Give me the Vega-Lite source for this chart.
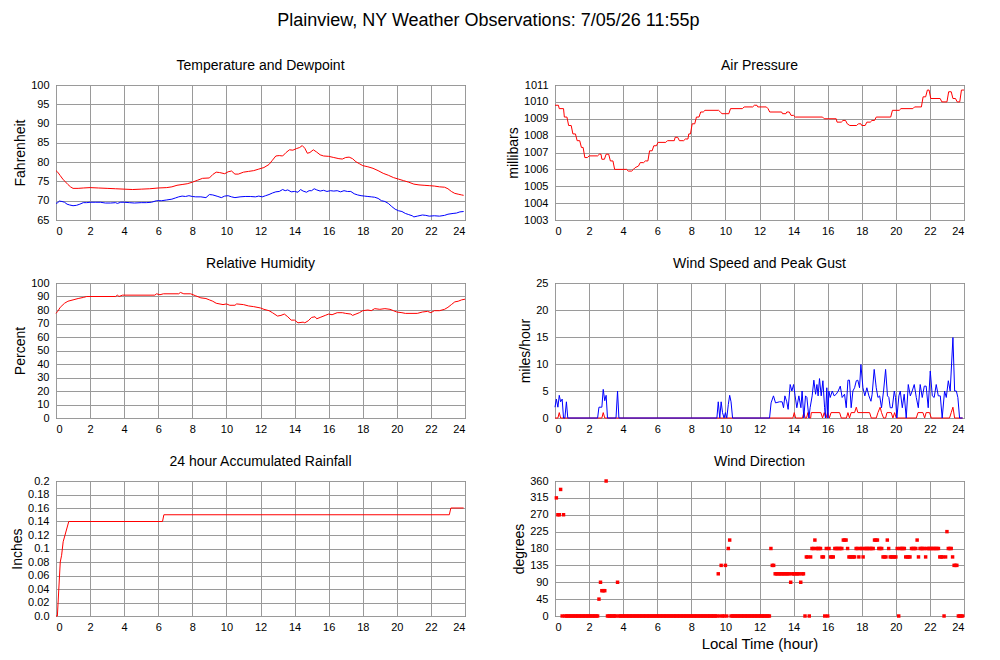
{
  "$schema": "https://vega.github.io/schema/vega-lite/v6.json",
  "background": "white",
  "padding": {"left": 10, "top": 11, "right": 5, "bottom": 5},
  "title": {"text": "Plainview, NY Weather Observations: 7/05/26 11:55p", "fontSize": 18, "fontWeight": "normal", "font": "Liberation Sans", "color": "#000", "anchor": "middle", "offset": 29},
  "config": {
    "font": "Liberation Sans",
    "view": {"stroke": "#444", "strokeWidth": 1},
    "axis": {"grid": true, "gridColor": "#9a9a9a", "gridWidth": 1, "domain": false, "ticks": false, "tickSize": 0, "labelFontSize": 11, "labelColor": "#000", "labelFont": "Liberation Sans", "titleFont": "Liberation Sans", "titleFontSize": 14, "titleFontWeight": "normal", "titleColor": "#000"},
    "axisX": {"labelPadding": 5, "titlePadding": 4, "titleFontSize": 15},
    "axisY": {"labelPadding": 7, "titlePadding": 3},
    "title": {"fontSize": 14, "fontWeight": "normal", "color": "#000", "offset": 6},
    "line": {"strokeWidth": 1}
  },
  "datasets": {
    "temp": [
      {"t":0,"v":77.8},{"t":0.1,"v":77.4},{"t":0.25,"v":76.5},{"t":0.4,"v":75.6},{"t":0.55,"v":74.9},{"t":0.7,"v":74.2},{"t":0.85,"v":73.6},{"t":1.0,"v":73.2},{"t":1.3,"v":73.2},{"t":1.6,"v":73.3},{"t":2.0,"v":73.4},{"t":2.5,"v":73.3},{"t":3.0,"v":73.2},{"t":3.5,"v":73.1},{"t":4.0,"v":73.0},{"t":4.5,"v":72.9},{"t":5.0,"v":73.0},{"t":5.5,"v":73.1},{"t":6.0,"v":73.3},{"t":6.5,"v":73.4},{"t":6.8,"v":73.6},{"t":7.1,"v":74.0},{"t":7.4,"v":74.2},{"t":7.7,"v":74.4},{"t":8.0,"v":74.8},{"t":8.3,"v":75.3},{"t":8.6,"v":75.8},{"t":9.0,"v":75.9},{"t":9.2,"v":76.8},{"t":9.4,"v":77.4},{"t":9.6,"v":77.3},{"t":9.9,"v":77.0},{"t":10.1,"v":77.5},{"t":10.3,"v":77.7},{"t":10.5,"v":76.9},{"t":10.7,"v":76.9},{"t":11.0,"v":77.4},{"t":11.3,"v":77.6},{"t":11.6,"v":77.8},{"t":11.9,"v":78.2},{"t":12.2,"v":78.6},{"t":12.5,"v":79.4},{"t":12.7,"v":80.5},{"t":12.9,"v":81.6},{"t":13.1,"v":81.7},{"t":13.3,"v":81.6},{"t":13.5,"v":82.5},{"t":13.7,"v":83.2},{"t":13.9,"v":83.1},{"t":14.1,"v":83.5},{"t":14.3,"v":83.8},{"t":14.45,"v":84.3},{"t":14.6,"v":83.6},{"t":14.75,"v":82.3},{"t":14.9,"v":82.5},{"t":15.1,"v":83.2},{"t":15.3,"v":82.6},{"t":15.5,"v":81.9},{"t":15.7,"v":81.6},{"t":16.0,"v":81.5},{"t":16.3,"v":81.2},{"t":16.6,"v":80.9},{"t":16.8,"v":80.8},{"t":17.0,"v":81.2},{"t":17.2,"v":81.3},{"t":17.4,"v":80.9},{"t":17.6,"v":80.1},{"t":17.8,"v":79.6},{"t":18.0,"v":79.1},{"t":18.3,"v":78.8},{"t":18.6,"v":78.4},{"t":18.9,"v":77.8},{"t":19.2,"v":77.1},{"t":19.5,"v":76.6},{"t":19.8,"v":76.0},{"t":20.1,"v":75.6},{"t":20.4,"v":75.2},{"t":20.7,"v":74.8},{"t":21.0,"v":74.3},{"t":21.3,"v":74.1},{"t":21.6,"v":74.0},{"t":21.9,"v":73.9},{"t":22.2,"v":73.8},{"t":22.5,"v":73.6},{"t":22.8,"v":73.5},{"t":23.0,"v":73.1},{"t":23.2,"v":72.4},{"t":23.4,"v":71.9},{"t":23.6,"v":71.7},{"t":23.8,"v":71.5},{"t":23.92,"v":71.4}
    ],
    "dew": [
      {"t":0,"v":69.3},{"t":0.1,"v":69.5},{"t":0.2,"v":69.9},{"t":0.35,"v":69.8},{"t":0.5,"v":69.6},{"t":0.65,"v":69.1},{"t":0.8,"v":68.9},{"t":1.0,"v":68.7},{"t":1.2,"v":68.8},{"t":1.4,"v":69.1},{"t":1.6,"v":69.5},{"t":1.8,"v":69.5},{"t":2.0,"v":69.6},{"t":2.3,"v":69.6},{"t":2.6,"v":69.6},{"t":2.9,"v":69.4},{"t":3.2,"v":69.4},{"t":3.5,"v":69.5},{"t":3.6,"v":69.3},{"t":3.8,"v":69.6},{"t":4.0,"v":69.6},{"t":4.3,"v":69.5},{"t":4.6,"v":69.4},{"t":5.0,"v":69.5},{"t":5.3,"v":69.5},{"t":5.6,"v":69.6},{"t":5.9,"v":70.0},{"t":6.2,"v":70.0},{"t":6.5,"v":70.2},{"t":6.8,"v":70.4},{"t":7.0,"v":70.7},{"t":7.2,"v":71.0},{"t":7.4,"v":71.2},{"t":7.6,"v":71.1},{"t":7.8,"v":71.3},{"t":8.0,"v":71.1},{"t":8.2,"v":71.0},{"t":8.5,"v":71.0},{"t":8.8,"v":70.8},{"t":9.0,"v":71.6},{"t":9.2,"v":71.5},{"t":9.5,"v":71.1},{"t":9.7,"v":70.8},{"t":9.9,"v":71.2},{"t":10.1,"v":71.3},{"t":10.3,"v":71.0},{"t":10.5,"v":70.8},{"t":10.8,"v":71.0},{"t":11.1,"v":71.1},{"t":11.4,"v":71.1},{"t":11.7,"v":71.0},{"t":11.9,"v":71.2},{"t":12.1,"v":71.0},{"t":12.3,"v":71.3},{"t":12.5,"v":71.6},{"t":12.7,"v":72.0},{"t":12.9,"v":72.3},{"t":13.1,"v":72.4},{"t":13.3,"v":72.9},{"t":13.45,"v":72.6},{"t":13.6,"v":72.8},{"t":13.8,"v":72.3},{"t":14.0,"v":72.4},{"t":14.2,"v":72.2},{"t":14.35,"v":72.9},{"t":14.5,"v":72.5},{"t":14.7,"v":72.2},{"t":14.85,"v":72.6},{"t":15.0,"v":72.6},{"t":15.15,"v":73.1},{"t":15.3,"v":72.8},{"t":15.5,"v":72.5},{"t":15.7,"v":72.7},{"t":15.9,"v":72.4},{"t":16.1,"v":72.6},{"t":16.3,"v":72.5},{"t":16.5,"v":72.6},{"t":16.7,"v":72.3},{"t":16.9,"v":72.6},{"t":17.1,"v":72.4},{"t":17.3,"v":72.4},{"t":17.5,"v":71.8},{"t":17.7,"v":71.5},{"t":17.9,"v":71.3},{"t":18.1,"v":71.2},{"t":18.3,"v":71.1},{"t":18.5,"v":71.0},{"t":18.7,"v":70.9},{"t":18.9,"v":70.6},{"t":19.1,"v":70.0},{"t":19.3,"v":69.8},{"t":19.5,"v":69.3},{"t":19.7,"v":68.5},{"t":19.9,"v":67.8},{"t":20.1,"v":67.4},{"t":20.3,"v":67.2},{"t":20.5,"v":66.7},{"t":20.7,"v":66.4},{"t":20.9,"v":66.1},{"t":21.0,"v":65.8},{"t":21.2,"v":66.0},{"t":21.5,"v":66.3},{"t":21.7,"v":66.2},{"t":21.9,"v":66.0},{"t":22.2,"v":66.1},{"t":22.5,"v":66.0},{"t":22.8,"v":66.2},{"t":23.0,"v":66.5},{"t":23.3,"v":66.7},{"t":23.5,"v":66.8},{"t":23.7,"v":67.1},{"t":23.92,"v":67.2}
    ],
    "pres": [
      {"t":0,"v":1009.8},{"t":0.2,"v":1009.8},{"t":0.25,"v":1009.6},{"t":0.5,"v":1009.6},{"t":0.55,"v":1009.1},{"t":0.7,"v":1009.1},{"t":0.8,"v":1008.6},{"t":0.95,"v":1008.6},{"t":1.05,"v":1008.1},{"t":1.2,"v":1008.1},{"t":1.3,"v":1007.7},{"t":1.45,"v":1007.7},{"t":1.55,"v":1007.3},{"t":1.65,"v":1007.3},{"t":1.75,"v":1006.7},{"t":1.9,"v":1006.7},{"t":2.0,"v":1006.8},{"t":2.5,"v":1006.8},{"t":2.6,"v":1006.9},{"t":2.7,"v":1006.9},{"t":2.75,"v":1006.6},{"t":2.9,"v":1006.6},{"t":3.0,"v":1006.9},{"t":3.15,"v":1006.9},{"t":3.25,"v":1006.5},{"t":3.4,"v":1006.5},{"t":3.5,"v":1006.0},{"t":4.2,"v":1006.0},{"t":4.3,"v":1005.9},{"t":4.5,"v":1005.9},{"t":4.6,"v":1006.0},{"t":4.7,"v":1006.1},{"t":4.9,"v":1006.2},{"t":5.0,"v":1006.4},{"t":5.2,"v":1006.4},{"t":5.3,"v":1006.5},{"t":5.45,"v":1006.5},{"t":5.55,"v":1007.1},{"t":5.7,"v":1007.1},{"t":5.8,"v":1007.4},{"t":5.95,"v":1007.4},{"t":6.05,"v":1007.6},{"t":6.5,"v":1007.6},{"t":6.6,"v":1007.7},{"t":7.0,"v":1007.7},{"t":7.05,"v":1007.9},{"t":7.2,"v":1007.9},{"t":7.3,"v":1007.7},{"t":7.55,"v":1007.7},{"t":7.65,"v":1007.8},{"t":7.8,"v":1007.8},{"t":7.85,"v":1008.1},{"t":7.95,"v":1008.1},{"t":8.05,"v":1008.7},{"t":8.2,"v":1008.7},{"t":8.3,"v":1009.1},{"t":8.45,"v":1009.1},{"t":8.55,"v":1009.4},{"t":8.7,"v":1009.4},{"t":8.8,"v":1009.5},{"t":9.6,"v":1009.5},{"t":9.7,"v":1009.4},{"t":9.8,"v":1009.3},{"t":10.2,"v":1009.3},{"t":10.3,"v":1009.6},{"t":11.0,"v":1009.6},{"t":11.1,"v":1009.7},{"t":11.6,"v":1009.7},{"t":11.7,"v":1009.8},{"t":11.85,"v":1009.8},{"t":11.9,"v":1009.7},{"t":12.4,"v":1009.7},{"t":12.5,"v":1009.6},{"t":12.6,"v":1009.4},{"t":13.3,"v":1009.4},{"t":13.35,"v":1009.3},{"t":13.55,"v":1009.3},{"t":13.6,"v":1009.4},{"t":13.75,"v":1009.4},{"t":13.85,"v":1009.2},{"t":14.0,"v":1009.2},{"t":14.1,"v":1009.1},{"t":15.7,"v":1009.1},{"t":15.8,"v":1009.0},{"t":16.5,"v":1009.0},{"t":16.55,"v":1008.8},{"t":16.8,"v":1008.8},{"t":16.9,"v":1008.9},{"t":17.05,"v":1008.9},{"t":17.15,"v":1008.7},{"t":17.3,"v":1008.6},{"t":17.7,"v":1008.6},{"t":17.8,"v":1008.7},{"t":17.95,"v":1008.7},{"t":18.0,"v":1008.6},{"t":18.2,"v":1008.6},{"t":18.3,"v":1008.8},{"t":18.5,"v":1008.8},{"t":18.6,"v":1008.9},{"t":18.75,"v":1008.9},{"t":18.85,"v":1009.1},{"t":19.7,"v":1009.1},{"t":19.8,"v":1009.5},{"t":20.2,"v":1009.5},{"t":20.3,"v":1009.6},{"t":21.0,"v":1009.6},{"t":21.1,"v":1009.7},{"t":21.5,"v":1009.7},{"t":21.6,"v":1010.3},{"t":21.75,"v":1010.3},{"t":21.85,"v":1010.7},{"t":21.95,"v":1010.7},{"t":22.05,"v":1010.2},{"t":22.6,"v":1010.2},{"t":22.7,"v":1010.0},{"t":23.0,"v":1010.0},{"t":23.1,"v":1010.6},{"t":23.25,"v":1010.6},{"t":23.35,"v":1010.2},{"t":23.5,"v":1010.2},{"t":23.6,"v":1010.0},{"t":23.75,"v":1010.0},{"t":23.85,"v":1010.7},{"t":24.0,"v":1010.7}
    ],
    "rh": [
      {"t":0,"v":77.5},{"t":0.1,"v":79},{"t":0.25,"v":82},{"t":0.5,"v":85},{"t":0.7,"v":86.5},{"t":1.0,"v":87.5},{"t":1.3,"v":88.5},{"t":1.6,"v":89.3},{"t":1.8,"v":90},{"t":3.5,"v":90},{"t":3.6,"v":91},{"t":3.7,"v":90},{"t":3.9,"v":91},{"t":5.8,"v":91},{"t":5.9,"v":92},{"t":6.1,"v":91.3},{"t":6.3,"v":92},{"t":7.2,"v":92},{"t":7.3,"v":93},{"t":7.5,"v":92},{"t":7.9,"v":92},{"t":8.2,"v":90.5},{"t":8.5,"v":89},{"t":8.8,"v":88.5},{"t":9.0,"v":87.5},{"t":9.2,"v":86.5},{"t":9.4,"v":85},{"t":9.8,"v":84},{"t":10.0,"v":84.5},{"t":10.2,"v":83.5},{"t":10.5,"v":83.5},{"t":10.6,"v":84.5},{"t":11.0,"v":84},{"t":11.3,"v":83},{"t":11.6,"v":82.5},{"t":12.0,"v":81.5},{"t":12.2,"v":80.5},{"t":12.5,"v":79.5},{"t":12.7,"v":78},{"t":13.0,"v":75.5},{"t":13.2,"v":76},{"t":13.4,"v":77},{"t":13.6,"v":75},{"t":13.8,"v":72.5},{"t":14.0,"v":72.5},{"t":14.2,"v":70.5},{"t":14.5,"v":71},{"t":14.6,"v":70.5},{"t":14.8,"v":72},{"t":15.0,"v":74.5},{"t":15.2,"v":75},{"t":15.3,"v":73.5},{"t":15.5,"v":74.5},{"t":15.8,"v":76},{"t":16.0,"v":77},{"t":16.2,"v":76.5},{"t":16.5,"v":78},{"t":16.8,"v":78},{"t":17.0,"v":77.5},{"t":17.3,"v":77},{"t":17.4,"v":76},{"t":17.6,"v":77},{"t":17.8,"v":78},{"t":18.0,"v":79.5},{"t":18.3,"v":80},{"t":18.5,"v":79.5},{"t":18.7,"v":81},{"t":19.0,"v":80.5},{"t":19.3,"v":81},{"t":19.6,"v":80.5},{"t":19.8,"v":79.5},{"t":20.0,"v":78.5},{"t":20.3,"v":78},{"t":20.5,"v":77.5},{"t":21.2,"v":77.5},{"t":21.5,"v":78.5},{"t":21.8,"v":79},{"t":22.0,"v":78},{"t":22.2,"v":79.5},{"t":22.5,"v":79.5},{"t":22.8,"v":80.5},{"t":23.0,"v":82},{"t":23.2,"v":84},{"t":23.4,"v":86},{"t":23.6,"v":86.5},{"t":23.8,"v":87.5},{"t":24.0,"v":88}
    ],
    "wind": [
      {"t":0,"v":0},{"t":0.17,"v":0},{"t":0.25,"v":1},{"t":0.33,"v":0},{"t":2.75,"v":0},{"t":2.83,"v":1},{"t":2.92,"v":0},{"t":13.96,"v":0},{"t":14.04,"v":1},{"t":14.12,"v":0},{"t":14.52,"v":0},{"t":14.6,"v":1},{"t":14.68,"v":0},{"t":14.76,"v":0},{"t":14.84,"v":1},{"t":14.92,"v":0},{"t":15.0,"v":0},{"t":15.04,"v":1},{"t":15.6,"v":1},{"t":15.7,"v":0},{"t":15.8,"v":1},{"t":15.9,"v":0},{"t":16.0,"v":1},{"t":16.1,"v":0},{"t":16.2,"v":1},{"t":16.7,"v":1},{"t":16.8,"v":0},{"t":17.1,"v":0},{"t":17.19,"v":1},{"t":17.28,"v":0},{"t":17.38,"v":1},{"t":17.58,"v":1},{"t":17.68,"v":2},{"t":17.77,"v":1},{"t":18.46,"v":1},{"t":18.56,"v":0},{"t":18.85,"v":0},{"t":18.95,"v":1},{"t":19.08,"v":2},{"t":19.16,"v":1},{"t":19.28,"v":0},{"t":19.4,"v":0},{"t":19.48,"v":1},{"t":19.73,"v":1},{"t":19.83,"v":0},{"t":19.93,"v":1},{"t":20.02,"v":0},{"t":21.2,"v":0},{"t":21.3,"v":1},{"t":21.59,"v":1},{"t":21.69,"v":0},{"t":21.78,"v":1},{"t":21.98,"v":1},{"t":22.08,"v":0},{"t":23.15,"v":0},{"t":23.25,"v":1},{"t":23.35,"v":2},{"t":23.45,"v":0},{"t":23.92,"v":0}
    ],
    "gust": [
      {"t":0,"v":2},{"t":0.08,"v":3.5},{"t":0.17,"v":2},{"t":0.25,"v":4.2},{"t":0.33,"v":3},{"t":0.42,"v":3.5},{"t":0.5,"v":0},{"t":0.58,"v":0},{"t":0.67,"v":3},{"t":0.75,"v":0},{"t":2.5,"v":0},{"t":2.58,"v":2},{"t":2.75,"v":2},{"t":2.83,"v":5.3},{"t":2.92,"v":3.2},{"t":3.0,"v":4.2},{"t":3.08,"v":0},{"t":3.58,"v":0},{"t":3.67,"v":5},{"t":3.75,"v":0},{"t":9.5,"v":0},{"t":9.58,"v":3},{"t":9.67,"v":0},{"t":9.75,"v":3},{"t":9.83,"v":1},{"t":9.92,"v":0},{"t":10.0,"v":1},{"t":10.08,"v":0},{"t":10.17,"v":2.5},{"t":10.25,"v":4.2},{"t":10.33,"v":3},{"t":10.42,"v":0},
      {"t":12.59,"v":0},{"t":12.68,"v":2.8},{"t":12.82,"v":4.1},{"t":12.94,"v":2.8},{"t":13.17,"v":3.0},{"t":13.33,"v":3.0},{"t":13.41,"v":1.9},{"t":13.49,"v":4.1},{"t":13.6,"v":3.0},{"t":13.68,"v":1.6},{"t":13.8,"v":6.2},{"t":13.9,"v":5},{"t":14.0,"v":6.2},{"t":14.09,"v":4.1},{"t":14.19,"v":1.9},{"t":14.31,"v":4.1},{"t":14.43,"v":1.9},{"t":14.5,"v":5},{"t":14.6,"v":0},{"t":14.7,"v":4.1},{"t":14.78,"v":3.8},{"t":14.9,"v":0},{"t":14.97,"v":1.9},{"t":15.09,"v":4.1},{"t":15.19,"v":7.0},{"t":15.29,"v":4.4},{"t":15.37,"v":6.2},{"t":15.44,"v":4.1},{"t":15.52,"v":7.3},{"t":15.62,"v":4.1},{"t":15.72,"v":6.9},{"t":15.82,"v":1.9},{"t":15.87,"v":0},{"t":15.95,"v":5.6},{"t":16.01,"v":0},{"t":16.07,"v":5},{"t":16.15,"v":3.8},{"t":16.27,"v":5},{"t":16.38,"v":4.1},{"t":16.5,"v":4.4},{"t":16.62,"v":5},{"t":16.74,"v":5.9},{"t":16.85,"v":3.8},{"t":16.99,"v":4.4},{"t":17.09,"v":1.9},{"t":17.19,"v":7.0},{"t":17.28,"v":7.0},{"t":17.38,"v":1.9},{"t":17.48,"v":5},{"t":17.58,"v":5.6},{"t":17.68,"v":6.9},{"t":17.77,"v":7.0},{"t":17.87,"v":5.6},{"t":17.95,"v":9.9},{"t":18.07,"v":5.6},{"t":18.18,"v":4.1},{"t":18.3,"v":5.6},{"t":18.42,"v":4.1},{"t":18.54,"v":3.1},{"t":18.61,"v":4.4},{"t":18.73,"v":9.0},{"t":18.85,"v":5.6},{"t":18.95,"v":3.8},{"t":19.05,"v":4.1},{"t":19.16,"v":1.9},{"t":19.28,"v":5},{"t":19.4,"v":9.0},{"t":19.51,"v":4.1},{"t":19.59,"v":3.8},{"t":19.67,"v":1.9},{"t":19.79,"v":1.9},{"t":19.91,"v":5},{"t":19.98,"v":3.8},{"t":20.06,"v":0},{"t":20.18,"v":4.1},{"t":20.26,"v":5},{"t":20.38,"v":1.9},{"t":20.49,"v":4.4},{"t":20.61,"v":0},{"t":20.73,"v":6.2},{"t":20.85,"v":4.1},{"t":20.96,"v":5},{"t":21.08,"v":6.2},{"t":21.2,"v":3.8},{"t":21.32,"v":1.9},{"t":21.43,"v":6.2},{"t":21.55,"v":3.8},{"t":21.67,"v":5.9},{"t":21.78,"v":5.9},{"t":21.9,"v":1.9},{"t":22.02,"v":8.7},{"t":22.14,"v":4.1},{"t":22.25,"v":3.8},{"t":22.37,"v":6.2},{"t":22.49,"v":4.1},{"t":22.61,"v":4.1},{"t":22.72,"v":0},{"t":22.86,"v":5},{"t":22.96,"v":3.8},{"t":23.08,"v":6.9},{"t":23.19,"v":5},{"t":23.35,"v":14.9},{"t":23.45,"v":5},{"t":23.55,"v":5},{"t":23.64,"v":3.8},{"t":23.74,"v":0},{"t":23.92,"v":0}
    ],
    "rain": [
      {"t":0,"v":0},{"t":0.08,"v":0},{"t":0.25,"v":0.08},{"t":0.33,"v":0.09},{"t":0.42,"v":0.11},{"t":0.75,"v":0.14},{"t":6.25,"v":0.14},{"t":6.33,"v":0.15},{"t":23.08,"v":0.15},{"t":23.17,"v":0.16},{"t":23.92,"v":0.16}
    ],
    "dir": [
      {"t":0.08,"v":315},{"t":0.17,"v":270},{"t":0.25,"v":270},{"t":0.33,"v":337.5},{"t":0.42,"v":0},{"t":0.5,"v":270},
      {"t":0.58,"v":0},{"t":0.67,"v":0},{"t":0.75,"v":0},{"t":0.83,"v":0},{"t":0.92,"v":0},{"t":1.0,"v":0},{"t":1.08,"v":0},{"t":1.17,"v":0},{"t":1.25,"v":0},{"t":1.33,"v":0},{"t":1.42,"v":0},{"t":1.5,"v":0},{"t":1.58,"v":0},{"t":1.67,"v":0},{"t":1.75,"v":0},{"t":1.83,"v":0},{"t":1.92,"v":0},{"t":2.0,"v":0},{"t":2.08,"v":0},{"t":2.17,"v":0},{"t":2.25,"v":0},{"t":2.33,"v":0},{"t":2.42,"v":0},{"t":2.5,"v":0},
      {"t":2.58,"v":45},{"t":2.67,"v":90},{"t":2.75,"v":67.5},{"t":2.83,"v":67.5},{"t":2.92,"v":67.5},{"t":3.0,"v":360},
      {"t":3.08,"v":0},{"t":3.17,"v":0},{"t":3.25,"v":0},{"t":3.33,"v":0},{"t":3.42,"v":0},{"t":3.5,"v":0},{"t":3.58,"v":0},{"t":3.67,"v":90},
      {"t":3.75,"v":0},{"t":3.83,"v":0},{"t":3.92,"v":0},{"t":4.0,"v":0},{"t":4.08,"v":0},{"t":4.17,"v":0},{"t":4.25,"v":0},{"t":4.33,"v":0},{"t":4.42,"v":0},{"t":4.5,"v":0},{"t":4.58,"v":0},{"t":4.67,"v":0},{"t":4.75,"v":0},{"t":4.83,"v":0},{"t":4.92,"v":0},{"t":5.0,"v":0},{"t":5.08,"v":0},{"t":5.17,"v":0},{"t":5.25,"v":0},{"t":5.33,"v":0},{"t":5.42,"v":0},{"t":5.5,"v":0},{"t":5.58,"v":0},{"t":5.67,"v":0},{"t":5.75,"v":0},{"t":5.83,"v":0},{"t":5.92,"v":0},{"t":6.0,"v":0},{"t":6.08,"v":0},{"t":6.17,"v":0},{"t":6.25,"v":0},{"t":6.33,"v":0},{"t":6.42,"v":0},{"t":6.5,"v":0},{"t":6.58,"v":0},{"t":6.67,"v":0},{"t":6.75,"v":0},{"t":6.83,"v":0},{"t":6.92,"v":0},{"t":7.0,"v":0},{"t":7.08,"v":0},{"t":7.17,"v":0},{"t":7.25,"v":0},{"t":7.33,"v":0},{"t":7.42,"v":0},{"t":7.5,"v":0},{"t":7.58,"v":0},{"t":7.67,"v":0},{"t":7.75,"v":0},{"t":7.83,"v":0},{"t":7.92,"v":0},{"t":8.0,"v":0},{"t":8.08,"v":0},{"t":8.17,"v":0},{"t":8.25,"v":0},{"t":8.33,"v":0},{"t":8.42,"v":0},{"t":8.5,"v":0},{"t":8.58,"v":0},{"t":8.67,"v":0},{"t":8.75,"v":0},{"t":8.83,"v":0},{"t":8.92,"v":0},{"t":9.0,"v":0},{"t":9.08,"v":0},{"t":9.17,"v":0},{"t":9.25,"v":0},{"t":9.33,"v":0},{"t":9.42,"v":0},{"t":9.5,"v":0},
      {"t":9.58,"v":112.5},{"t":9.67,"v":0},{"t":9.75,"v":135},{"t":9.83,"v":0},{"t":9.92,"v":0},{"t":10.0,"v":135},{"t":10.08,"v":0},{"t":10.17,"v":180},{"t":10.25,"v":202.5},{"t":10.33,"v":0},
      {"t":10.42,"v":0},{"t":10.5,"v":0},{"t":10.58,"v":0},{"t":10.67,"v":0},{"t":10.75,"v":0},{"t":10.83,"v":0},{"t":10.92,"v":0},{"t":11.0,"v":0},{"t":11.08,"v":0},{"t":11.17,"v":0},{"t":11.25,"v":0},{"t":11.33,"v":0},{"t":11.42,"v":0},{"t":11.5,"v":0},{"t":11.58,"v":0},{"t":11.67,"v":0},{"t":11.75,"v":0},{"t":11.83,"v":0},{"t":11.92,"v":0},{"t":12.0,"v":0},{"t":12.08,"v":0},{"t":12.17,"v":0},{"t":12.25,"v":0},{"t":12.33,"v":0},{"t":12.42,"v":0},{"t":12.5,"v":0},{"t":12.58,"v":0},
      {"t":12.67,"v":180},{"t":12.75,"v":135},{"t":12.83,"v":135},{"t":12.92,"v":112.5},{"t":13.0,"v":112.5},{"t":13.08,"v":112.5},{"t":13.17,"v":112.5},{"t":13.25,"v":112.5},{"t":13.33,"v":112.5},{"t":13.42,"v":112.5},{"t":13.5,"v":112.5},{"t":13.58,"v":112.5},{"t":13.67,"v":112.5},{"t":13.75,"v":112.5},{"t":13.83,"v":90},{"t":13.92,"v":112.5},{"t":14.0,"v":112.5},{"t":14.08,"v":112.5},{"t":14.17,"v":112.5},{"t":14.25,"v":112.5},{"t":14.33,"v":112.5},{"t":14.42,"v":90},{"t":14.5,"v":112.5},{"t":14.58,"v":112.5},
      {"t":14.67,"v":0},{"t":14.75,"v":157.5},{"t":14.83,"v":157.5},{"t":14.92,"v":0},{"t":15.0,"v":157.5},{"t":15.08,"v":180},{"t":15.17,"v":180},{"t":15.25,"v":202.5},{"t":15.33,"v":180},{"t":15.42,"v":180},{"t":15.5,"v":180},{"t":15.58,"v":180},{"t":15.67,"v":157.5},{"t":15.75,"v":157.5},{"t":15.83,"v":0},{"t":15.92,"v":180},{"t":16.0,"v":0},{"t":16.08,"v":180},{"t":16.17,"v":157.5},{"t":16.25,"v":157.5},{"t":16.33,"v":157.5},
      {"t":16.42,"v":180},{"t":16.5,"v":180},{"t":16.58,"v":180},{"t":16.67,"v":180},{"t":16.75,"v":180},{"t":16.83,"v":180},{"t":16.92,"v":202.5},{"t":17.0,"v":202.5},{"t":17.08,"v":202.5},{"t":17.17,"v":180},{"t":17.25,"v":157.5},{"t":17.33,"v":157.5},{"t":17.42,"v":157.5},{"t":17.5,"v":157.5},{"t":17.58,"v":157.5},{"t":17.67,"v":180},{"t":17.75,"v":180},{"t":17.83,"v":157.5},{"t":17.92,"v":180},{"t":18.0,"v":180},{"t":18.08,"v":157.5},{"t":18.17,"v":180},{"t":18.25,"v":180},{"t":18.33,"v":180},{"t":18.42,"v":180},{"t":18.5,"v":180},{"t":18.58,"v":180},{"t":18.67,"v":180},{"t":18.75,"v":202.5},{"t":18.83,"v":202.5},{"t":18.92,"v":202.5},{"t":19.0,"v":180},{"t":19.08,"v":180},{"t":19.17,"v":180},{"t":19.25,"v":157.5},{"t":19.33,"v":157.5},{"t":19.42,"v":157.5},{"t":19.5,"v":202.5},{"t":19.58,"v":180},{"t":19.67,"v":157.5},{"t":19.75,"v":157.5},{"t":19.83,"v":157.5},
      {"t":19.92,"v":157.5},{"t":20.0,"v":157.5},{"t":20.08,"v":180},{"t":20.17,"v":0},{"t":20.25,"v":180},{"t":20.33,"v":180},{"t":20.42,"v":180},{"t":20.5,"v":180},{"t":20.58,"v":157.5},{"t":20.67,"v":157.5},{"t":20.75,"v":157.5},{"t":20.83,"v":157.5},{"t":20.92,"v":180},{"t":21.0,"v":180},{"t":21.08,"v":180},{"t":21.17,"v":180},{"t":21.25,"v":202.5},{"t":21.33,"v":157.5},{"t":21.42,"v":180},{"t":21.5,"v":180},{"t":21.58,"v":180},{"t":21.67,"v":180},{"t":21.75,"v":157.5},{"t":21.83,"v":180},{"t":21.92,"v":180},{"t":22.0,"v":180},{"t":22.08,"v":180},{"t":22.17,"v":180},{"t":22.25,"v":180},{"t":22.33,"v":180},{"t":22.42,"v":180},{"t":22.5,"v":180},
      {"t":22.58,"v":157.5},{"t":22.67,"v":157.5},{"t":22.75,"v":157.5},{"t":22.83,"v":0},{"t":22.92,"v":157.5},{"t":23.0,"v":225},{"t":23.08,"v":180},{"t":23.17,"v":180},{"t":23.25,"v":180},{"t":23.33,"v":157.5},{"t":23.42,"v":135},{"t":23.5,"v":135},{"t":23.58,"v":135},{"t":23.67,"v":0},{"t":23.75,"v":0},{"t":23.83,"v":0},{"t":23.92,"v":0}
    ]
  },
  "columns": 2,
  "spacing": {"row": 63, "column": 90},
  "bounds": "flush",
  "concat": [
    {
      "title": "Temperature and Dewpoint",
      "width": 409, "height": 135,
      "encoding": {
        "x": {"field": "t", "type": "quantitative", "scale": {"domain": [0, 24], "nice": false}, "axis": {"title": null, "values": [0,2,4,6,8,10,12,14,16,18,20,22,24]}},
        "y": {"field": "v", "type": "quantitative", "scale": {"domain": [65, 100], "nice": false, "zero": false}, "axis": {"title": "Fahrenheit", "values": [65,70,75,80,85,90,95,100]}}
      },
      "layer": [
        {"data": {"name": "temp"}, "mark": {"type": "line", "color": "#ff0000"}},
        {"data": {"name": "dew"}, "mark": {"type": "line", "color": "#0000ff"}}
      ]
    },
    {
      "title": "Air Pressure",
      "width": 409, "height": 135,
      "data": {"name": "pres"},
      "mark": {"type": "line", "color": "#ff0000"},
      "encoding": {
        "x": {"field": "t", "type": "quantitative", "scale": {"domain": [0, 24], "nice": false}, "axis": {"title": null, "values": [0,2,4,6,8,10,12,14,16,18,20,22,24]}},
        "y": {"field": "v", "type": "quantitative", "scale": {"domain": [1003, 1011], "nice": false, "zero": false}, "axis": {"title": "millibars", "format": "d", "values": [1003,1004,1005,1006,1007,1008,1009,1010,1011]}}
      }
    },
    {
      "title": "Relative Humidity",
      "width": 409, "height": 135,
      "data": {"name": "rh"},
      "mark": {"type": "line", "color": "#ff0000"},
      "encoding": {
        "x": {"field": "t", "type": "quantitative", "scale": {"domain": [0, 24], "nice": false}, "axis": {"title": null, "values": [0,2,4,6,8,10,12,14,16,18,20,22,24]}},
        "y": {"field": "v", "type": "quantitative", "scale": {"domain": [0, 100], "nice": false}, "axis": {"title": "Percent", "values": [0,10,20,30,40,50,60,70,80,90,100]}}
      }
    },
    {
      "title": "Wind Speed and Peak Gust",
      "width": 409, "height": 135,
      "encoding": {
        "x": {"field": "t", "type": "quantitative", "scale": {"domain": [0, 24], "nice": false}, "axis": {"title": null, "values": [0,2,4,6,8,10,12,14,16,18,20,22,24]}},
        "y": {"field": "v", "type": "quantitative", "scale": {"domain": [0, 25], "nice": false}, "axis": {"title": "miles/hour", "values": [0,5,10,15,20,25]}}
      },
      "layer": [
        {"data": {"name": "wind"}, "mark": {"type": "line", "color": "#ff0000"}},
        {"data": {"name": "gust"}, "mark": {"type": "line", "color": "#0000ff"}}
      ]
    },
    {
      "title": "24 hour Accumulated Rainfall",
      "width": 409, "height": 135,
      "data": {"name": "rain"},
      "mark": {"type": "line", "color": "#ff0000"},
      "encoding": {
        "x": {"field": "t", "type": "quantitative", "scale": {"domain": [0, 24], "nice": false}, "axis": {"title": null, "values": [0,2,4,6,8,10,12,14,16,18,20,22,24]}},
        "y": {"field": "v", "type": "quantitative", "scale": {"domain": [0, 0.2], "nice": false}, "axis": {"title": "Inches", "values": [0,0.02,0.04,0.06,0.08,0.1,0.12,0.14,0.16,0.18,0.2], "labelExpr": "datum.value == 0 ? '0.0' : toString(round(datum.value * 100) / 100)"}}
      }
    },
    {
      "title": "Wind Direction",
      "width": 409, "height": 135,
      "data": {"name": "dir"},
      "mark": {"type": "point", "shape": "square", "filled": true, "size": 12, "color": "#ff0000", "opacity": 1},
      "encoding": {
        "x": {"field": "t", "type": "quantitative", "scale": {"domain": [0, 24], "nice": false}, "axis": {"title": "Local Time (hour)", "values": [0,2,4,6,8,10,12,14,16,18,20,22,24]}},
        "y": {"field": "v", "type": "quantitative", "scale": {"domain": [0, 360], "nice": false}, "axis": {"title": "degrees", "values": [0,45,90,135,180,225,270,315,360]}}
      }
    }
  ]
}
